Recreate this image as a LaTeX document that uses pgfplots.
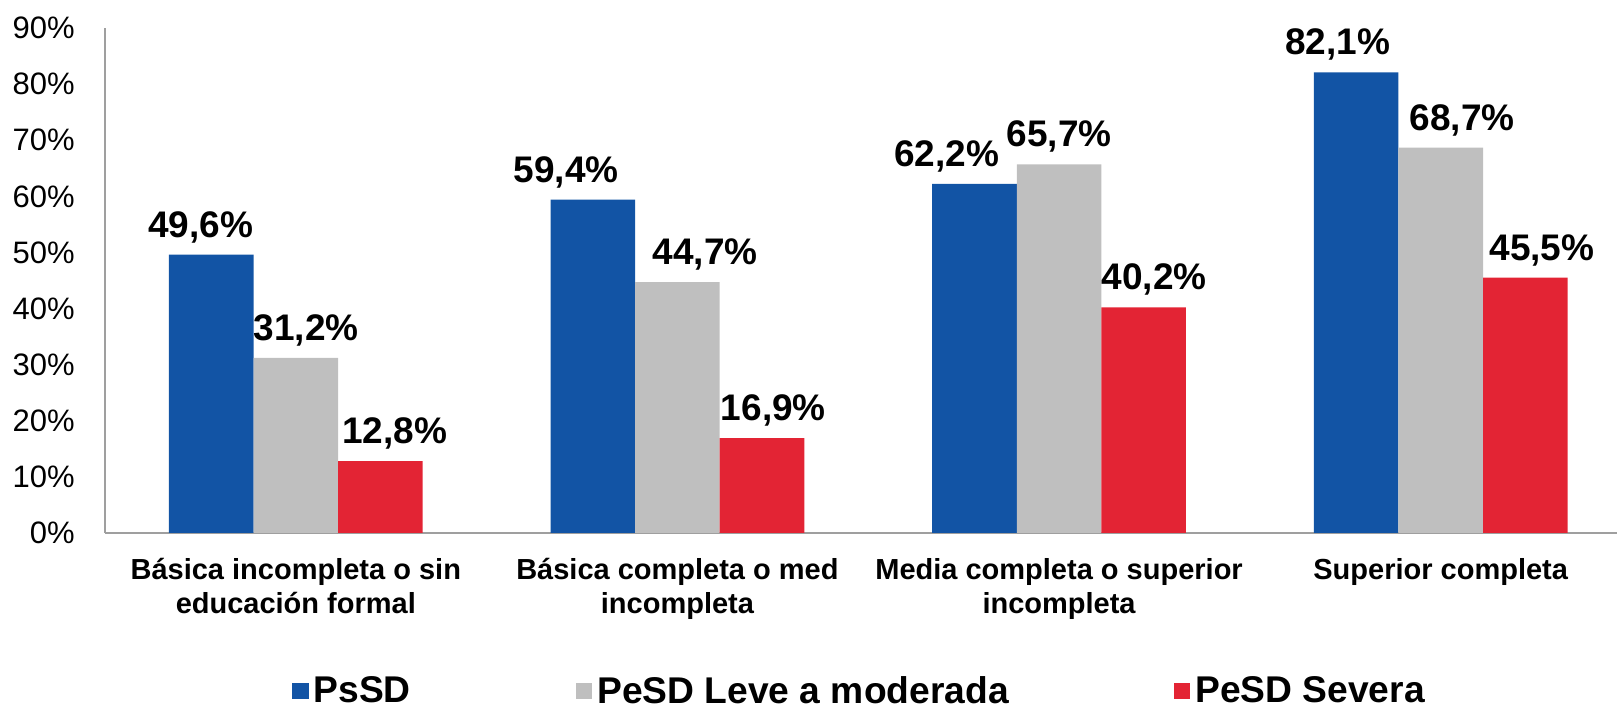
\documentclass[border=0pt]{standalone}
\usepackage{pgfplots}
\pgfplotsset{compat=1.18}
\usepackage{pgfplotstable}
\usepackage{fontspec}
\setmainfont{Liberation Sans}
\definecolor{cblue}{RGB}{18,84,165}
\definecolor{cgrey}{RGB}{191,191,191}
\definecolor{cred}{RGB}{227,36,52}
\pgfplotstableread{
x psd leve sev dxa dxb dxc
0 49.6 31.2 12.8 -5.2 5.2 7.2
1 59.4 44.7 16.9 -13.4 13.9 5.7
2 62.2 65.7 40.2 -13.9 0.0 5.2
3 82.1 68.7 45.5 -9.3 10.8 8.3
}\data
\begin{document}
\begin{tikzpicture}
\useasboundingbox (-52.5pt,-89pt) rectangle (756pt,266.5pt);
\begin{axis}[
  at={(0,0)}, anchor=south west,
  scale only axis, width=756pt, height=252.5pt,
  xmin=-0.5, xmax=3.462, ymin=0, ymax=90,
  axis x line*=bottom, axis y line*=left,
  axis line style={draw=gray!75, line width=0.75pt},
  major tick length=0pt,
  ytick={0,10,...,90},
  yticklabels={0\%,10\%,20\%,30\%,40\%,50\%,60\%,70\%,80\%,90\%},
  yticklabel style={anchor=east, inner sep=0pt, xshift=-15pt, font=\fontsize{15.5}{18}\selectfont},
  xtick={0,1,2,3},
  xticklabels={{\vphantom{Á}Básica incompleta o sin\\educación formal},{\vphantom{Á}Básica completa o med\\incompleta},{\vphantom{Á}Media completa o superior\\incompleta},{\vphantom{Á}Superior completa}},
  xticklabel style={anchor=north, inner sep=0pt, yshift=-10.3pt, align=center, font=\bfseries\fontsize{14.5}{17}\selectfont},
  ybar=0pt, bar width=42.3pt,
  clip=false,
  /pgf/number format/assume math mode=true,
  nodes near coords={\pgfmathprintnumber[fixed,fixed zerofill,precision=1,use comma]{\pgfplotspointmeta}\%},
  nodes near coords style={font=\bfseries\fontsize{18.5}{22}\selectfont, anchor=base, inner sep=0pt, yshift=8.75pt},
  legend columns=3,
  legend style={at={(axis description cs:0.5,-0.3130)}, anchor=center, draw=none, fill=none,
    font=\bfseries\fontsize{18.6}{22}\selectfont,
    nodes={inner xsep=2.5pt, inner ysep=0pt},
    /tikz/every even column/.append style={column sep=80pt}},
  legend image code/.code={\fill[#1] (0pt,-4.125pt) rectangle (8.25pt,4.125pt);},
]
\addplot[fill=cblue, draw=none, bar shift=-42.3pt,
  visualization depends on={\thisrow{dxa}\as\dx},
  every node near coord/.append style={xshift=\dx pt}] table[x=x,y=psd]{\data};
\addplot[fill=cgrey, draw=none, bar shift=0pt,
  visualization depends on={\thisrow{dxb}\as\dx},
  every node near coord/.append style={xshift=\dx pt}] table[x=x,y=leve]{\data};
\addplot[fill=cred, draw=none, bar shift=42.3pt,
  visualization depends on={\thisrow{dxc}\as\dx},
  every node near coord/.append style={xshift=\dx pt}] table[x=x,y=sev]{\data};
\legend{PsSD, PeSD Leve a moderada, PeSD Severa}
\end{axis}
\end{tikzpicture}
\end{document}
